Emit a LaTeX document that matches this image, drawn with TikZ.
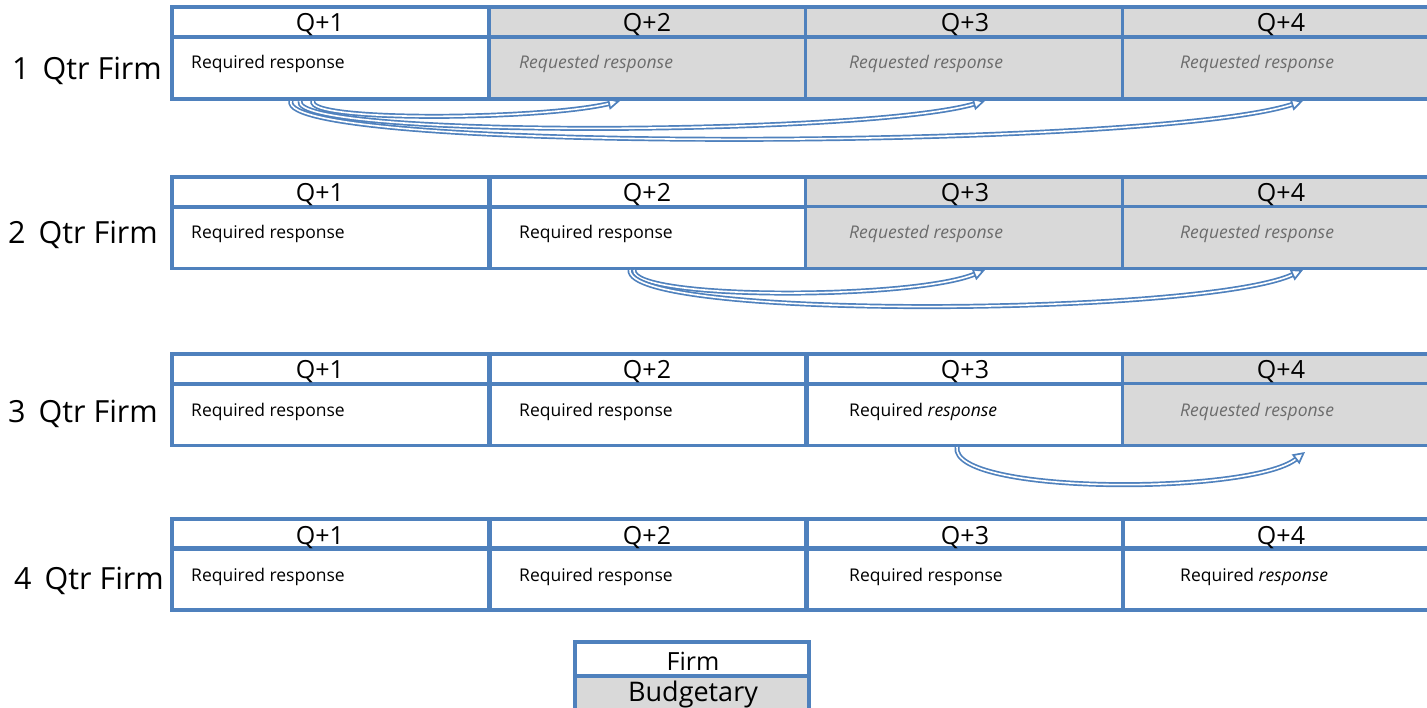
\documentclass[tikz,border=0pt]{standalone}
\usepackage{fontspec}
\setmainfont{Open Sans}
\usetikzlibrary{arrows.meta}
\definecolor{bl}{HTML}{4F81BD}
\definecolor{gr}{HTML}{D9D9D9}
\begin{document}
\begin{tikzpicture}[x=1pt,y=-1pt,
  cellbox/.style={draw=bl,line width=3.4pt,inner sep=0pt,minimum width=318pt},
  hdr/.style={cellbox,minimum height=30pt},
  body/.style={cellbox,minimum height=62pt},
  gfill/.style={fill=gr},
  qt/.style={inner sep=0pt,font=\fontsize{25}{25}\selectfont},
  req/.style={anchor=west,inner sep=0pt,font=\fontsize{17.5}{18}\selectfont},
  rqd/.style={req,text=gray!85!black,font=\fontsize{17.5}{18}\selectfont\itshape},
  lab/.style={anchor=west,inner sep=0pt,font=\fontsize{30.5}{31}\selectfont},
  arr/.style={draw=bl,line width=1.7pt,double=white,double distance=1.6pt,-{Triangle[open,length=12pt,width=12pt]}}
]
\useasboundingbox (0,0) rectangle (1427,708);
\clip (0,0) rectangle (1427,708);
% ---------- Table 1 ----------
\node[hdr] (a1h) at (331,22) {};
\node[hdr,gfill] (a2h) at (648,22) {};
\node[hdr,gfill] (a3h) at (964.5,22) {};
\node[hdr,gfill] (a4h) at (1281.5,22) {};
\node[body] (a1b) at (331,68) {};
\node[body,gfill] (a2b) at (648,68) {};
\node[body,gfill] (a3b) at (964.5,68) {};
\node[body,gfill] (a4b) at (1281.5,68) {};
\node[qt] (a1q) at (320,25) {Q+1};
\node[qt] (a2q) at (647,25) {Q+2};
\node[qt] (a3q) at (965,25) {Q+3};
\node[qt] (a4q) at (1281,25) {Q+4};
\node[req] (a1t) at (191,64) {Required response};
\node[rqd] (a2t) at (519,64) {Requested response};
\node[rqd] (a3t) at (849,64) {Requested response};
\node[rqd] (a4t) at (1180,64) {Requested response};
\node[lab] (l1) at (12,71) {1 \,Qtr Firm};
% ---------- Table 2 ----------
\node[hdr] (b1h) at (331,192) {};
\node[hdr] (b2h) at (648,192) {};
\node[hdr,gfill] (b3h) at (964.5,192) {};
\node[hdr,gfill] (b4h) at (1281.5,192) {};
\node[body] (b1b) at (331,237.5) {};
\node[body] (b2b) at (648,237.5) {};
\node[body,gfill] (b3b) at (964.5,237.5) {};
\node[body,gfill] (b4b) at (1281.5,237.5) {};
\node[qt] (b1q) at (320,195) {Q+1};
\node[qt] (b2q) at (647,195) {Q+2};
\node[qt] (b3q) at (965,195) {Q+3};
\node[qt] (b4q) at (1281,195) {Q+4};
\node[req] (b1t) at (191,234) {Required response};
\node[req] (b2t) at (519,234) {Required response};
\node[rqd] (b3t) at (849,234) {Requested response};
\node[rqd] (b4t) at (1180,234) {Requested response};
\node[lab] (l2) at (8,235) {2 \,Qtr Firm};
% ---------- Table 3 ----------
\node[hdr] (c1h) at (331,369) {};
\node[hdr] (c2h) at (648,369) {};
\node[hdr] (c3h) at (964.5,369) {};
\node[hdr,gfill] (c4h) at (1281.5,369) {};
\node[body] (c1b) at (331,414.5) {};
\node[body] (c2b) at (648,414.5) {};
\node[body] (c3b) at (964.5,414.5) {};
\node[body,gfill] (c4b) at (1281.5,414.5) {};
\node[qt] (c1q) at (320,372) {Q+1};
\node[qt] (c2q) at (647,372) {Q+2};
\node[qt] (c3q) at (965,372) {Q+3};
\node[qt] (c4q) at (1281,372) {Q+4};
\node[req] (c1t) at (191,412) {Required response};
\node[req] (c2t) at (519,412) {Required response};
\node[req] (c3t) at (849,412) {Required \textit{response}};
\node[rqd] (c4t) at (1180,412) {Requested response};
\node[lab] (l3) at (8,414) {3 \,Qtr Firm};
% ---------- Table 4 ----------
\node[hdr] (d1h) at (331,534) {};
\node[hdr] (d2h) at (648,534) {};
\node[hdr] (d3h) at (964.5,534) {};
\node[hdr] (d4h) at (1281.5,534) {};
\node[body] (d1b) at (331,579) {};
\node[body] (d2b) at (648,579) {};
\node[body] (d3b) at (964.5,579) {};
\node[body] (d4b) at (1281.5,579) {};
\node[qt] (d1q) at (320,538) {Q+1};
\node[qt] (d2q) at (647,538) {Q+2};
\node[qt] (d3q) at (965,538) {Q+3};
\node[qt] (d4q) at (1281,538) {Q+4};
\node[req] (d1t) at (191,577) {Required response};
\node[req] (d2t) at (519,577) {Required response};
\node[req] (d3t) at (849,577) {Required response};
\node[req] (d4t) at (1180,577) {Required \textit{response}};
\node[lab] (l4) at (14,581) {4 \,Qtr Firm};
% ---------- Legend ----------
\node[cellbox,minimum width=234pt,minimum height=34pt] (lf) at (692,659) {};
\node[cellbox,gfill,minimum width=234pt,minimum height=34pt] (lb) at (692,693) {};
\node[qt] (lft) at (693,661) {Firm};
\node[qt,font=\fontsize{27}{27}\selectfont] (lbt) at (693,694) {Budgetary};
% ---------- Arrows ----------
\coordinate (s12) at (313,101);
\coordinate (s13) at (300,101);
\coordinate (s14) at (291,101);
\coordinate (e12) at (620,101);
\coordinate (e13) at (985,101);
\coordinate (e14) at (1303,101);
\draw[arr] (s12) .. controls (305,122) and (540,120) .. (e12);
\draw[arr] (s13) .. controls (290,138) and (860,136) .. (e13);
\draw[arr] (s14) .. controls (275,153) and (1150,150) .. (e14);
\coordinate (s23) at (634,270);
\coordinate (s24) at (630,270);
\coordinate (e23) at (985,270);
\coordinate (e24) at (1303,270);
\draw[arr] (s23) .. controls (630,300) and (910,300) .. (e23);
\draw[arr] (s24) .. controls (626,320) and (1200,316) .. (e24);
\coordinate (s34) at (957,447);
\coordinate (e34) at (1305,452);
\draw[arr] (s34) .. controls (950,495) and (1250,495) .. (e34);
\end{tikzpicture}
\end{document}
